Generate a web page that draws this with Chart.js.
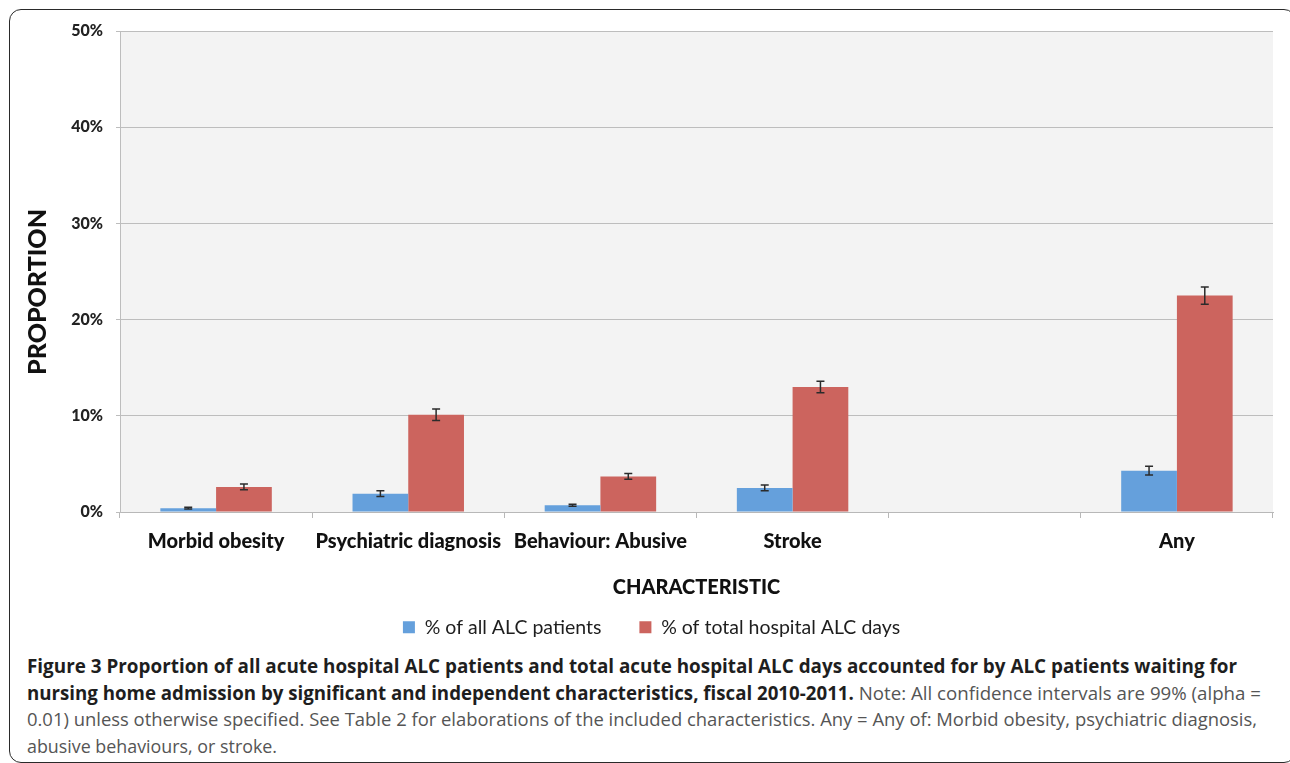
<!doctype html>
<html lang="en">
<head>
    <meta charset="utf-8">
    <title>Figure 3</title>
    <script src="https://cdn.jsdelivr.net/npm/chart.js"></script>
    <style>
        body { margin: 0; background: #fff; width: 1290px; height: 763px; overflow: hidden; position: relative; }
        #frame { position: absolute; left: 9px; top: 9px; width: 1285px; height: 752px; border: 1.5px solid #2a2a2a; border-radius: 12px; }
        #div_chart { position: absolute; left: 0; top: 0; width: 1290px; height: 647px; }
        #caption { position: absolute; left: 27px; top: 653px; font-family: "Open Sans", sans-serif; font-size: 19px; line-height: 26.5px; color: #555; white-space: nowrap; }
        #caption .line { transform-origin: 0 50%; width: max-content; }
        #caption b { color: #1e1e1e; }
    </style>
</head>
<body>
    <div id="frame"></div>
    <div id="div_chart">
        <canvas id="chart" width="1290" height="647"></canvas>
    </div>
    <div id="caption">
        <div class="line" data-w="1210"><b>Figure 3 Proportion of all acute hospital ALC patients and total acute hospital ALC days accounted for by ALC patients waiting for</b></div>
        <div class="line" data-w="1234"><b>nursing home admission by significant and independent characteristics, fiscal 2010-2011.</b> Note: All confidence intervals are 99% (alpha =</div>
        <div class="line" data-w="1230">0.01) unless otherwise specified. See Table 2 for elaborations of the included characteristics. Any = Any of: Morbid obesity, psychiatric diagnosis,</div>
        <div class="line" data-w="250">abusive behaviours, or stroke.</div>
    </div>

    <script>
        // values (percent)
        const categories = ["Morbid obesity", "Psychiatric diagnosis", "Behaviour: Abusive", "Stroke", "", "Any"];
        const patients = [0.4, 1.9, 0.7, 2.5, null, 4.3];
        const patients_err = [0.1, 0.3, 0.1, 0.3, null, 0.45];
        const days = [2.6, 10.1, 3.7, 13.0, null, 22.5];
        const days_err = [0.3, 0.6, 0.3, 0.6, null, 0.9];
        const y_ticks = [0, 10, 20, 30, 40, 50];

        const errors = [patients_err, days_err];

        // squeeze each caption line to the width it has in the figure
        document.querySelectorAll('#caption .line').forEach(el => {
            const w = el.getBoundingClientRect().width;
            el.style.transform = 'scaleX(' + (el.dataset.w / w) + ')';
        });

        // light grey plot background
        const plotBg = {
            id: 'plotBg',
            beforeDraw(chart) {
                const a = chart.chartArea;
                const ctx = chart.ctx;
                ctx.save();
                ctx.fillStyle = '#f3f3f3';
                ctx.fillRect(a.left, a.top, a.right - a.left, a.bottom - a.top);
                ctx.restore();
            }
        };

        // y title sits a bit below the middle of the axis in the figure
        const yTitle = {
            id: 'yTitle',
            afterDraw(chart) {
                const ctx = chart.ctx;
                ctx.save();
                ctx.translate(38, 292);
                ctx.rotate(-Math.PI / 2);
                ctx.font = '900 25px Lato';
                ctx.fillStyle = '#111';
                ctx.textAlign = 'center';
                ctx.textBaseline = 'middle';
                ctx.fillText('PROPORTION', 0, 0);
                ctx.restore();
            }
        };

        // confidence interval whiskers
        const errorBars = {
            id: 'errorBars',
            afterDatasetsDraw(chart) {
                const ctx = chart.ctx;
                const y = chart.scales.y;
                ctx.save();
                ctx.strokeStyle = '#2b2b2b';
                ctx.lineWidth = 1.5;
                chart.data.datasets.forEach((ds, d) => {
                    const meta = chart.getDatasetMeta(d);
                    meta.data.forEach((bar, i) => {
                        const v = ds.data[i];
                        const e = errors[d][i];
                        if (v == null || e == null) return;
                        const top = y.getPixelForValue(v + e);
                        const bot = y.getPixelForValue(v - e);
                        const x = bar.x;
                        ctx.beginPath();
                        ctx.moveTo(x, top); ctx.lineTo(x, bot);
                        ctx.moveTo(x - 4, top); ctx.lineTo(x + 4, top);
                        ctx.moveTo(x - 4, bot); ctx.lineTo(x + 4, bot);
                        ctx.stroke();
                    });
                });
                ctx.restore();
            }
        };

        const ctx = document.getElementById('chart');
        new Chart(ctx, {
            type: 'bar',
            data: {
                labels: categories,
                datasets: [{
                    label: '% of all ALC patients',
                    data: patients,
                    backgroundColor: '#65a0dc',
                    categoryPercentage: 0.58,
                    barPercentage: 1.0
                }, {
                    label: '% of total hospital ALC days',
                    data: days,
                    backgroundColor: '#cc645e',
                    categoryPercentage: 0.58,
                    barPercentage: 1.0
                }]
            },
            options: {
                responsive: false,
                animation: false,
                layout: { padding: { top: 31, right: 17, left: 30, bottom: 0 } },
                plugins: {
                    tooltip: { enabled: false },
                    legend: {
                        position: 'bottom',
                        labels: {
                            font: { family: 'Lato', size: 19.5 },
                            color: '#1e1e1e',
                            boxWidth: 12,
                            boxHeight: 12,
                            padding: 38
                        }
                    }
                },
                scales: {
                    x: {
                        grid: { drawOnChartArea: false, drawTicks: true, tickLength: 6, color: '#b8b8b8' },
                        border: { color: '#b8b8b8' },
                        ticks: {
                            font: { family: 'Lato', size: 20, weight: '900' },
                            color: '#111',
                            padding: 11.5,
                            maxRotation: 0
                        },
                        title: {
                            display: true,
                            text: 'CHARACTERISTIC',
                            font: { family: 'Lato', size: 20, weight: '900' },
                            color: '#111',
                            padding: { top: 10.5, bottom: -20 }
                        }
                    },
                    y: {
                        min: 0,
                        max: 50,
                        afterBuildTicks(scale) {
                            scale.ticks = y_ticks.map(v => ({ value: v }));
                        },
                        afterFit(scale) {
                            scale.width = 90;
                        },
                        grid: { color: '#bdbdbd', tickLength: 4 },
                        border: { color: '#bdbdbd' },
                        ticks: {
                            font: { family: 'Lato', size: 16, weight: '900' },
                            color: '#222',
                            padding: 13,
                            callback: v => v + '%'
                        }
                    }
                }
            },
            plugins: [plotBg, errorBars, yTitle]
        });
    </script>
</body>
</html>
